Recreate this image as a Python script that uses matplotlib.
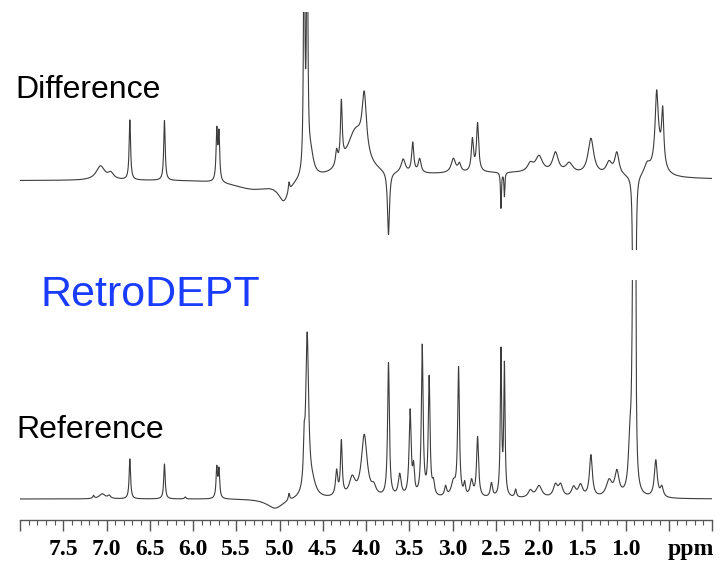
import numpy as np
import matplotlib
matplotlib.use('Agg')
import matplotlib.pyplot as plt

# peak lists: position (ppm), height (px above baseline), half width (ppm)
ref_ppm = [7.15, 7.05, 6.97, 6.73, 6.33, 6.09, 5.725, 5.70, 5.05, 4.89, 4.715, 4.68, 4.62,
           4.34, 4.285, 4.16, 4.02, 3.91, 3.74, 3.61, 3.49, 3.45, 3.35, 3.27, 3.22, 3.08,
           2.99, 2.93, 2.86, 2.78, 2.71, 2.55, 2.44, 2.40, 2.27, 2.10, 2.00, 1.81, 1.75,
           1.60, 1.52, 1.40, 1.19, 1.10, 0.95, 0.91, 0.885, 0.65, 0.58]
ref_height = [3, 5, 3, 40, 35, 2, 30, 28, -10, 7, 35, 160, 12,
              25, 54, 18, 62, 8, 134, 22, 85, 25, 150, 118, 12, 10,
              14, 128, 12, 16, 60, 14, 145, 130, 8, 7, 12, 12, 12,
              10, 12, 42, 16, 24, 40, 300, 300, 37, 10]
ref_width = [0.01, 0.04, 0.02, 0.010, 0.010, 0.01, 0.010, 0.010, 0.12, 0.01, 0.010, 0.020, 0.05,
             0.015, 0.012, 0.04, 0.04, 0.03, 0.012, 0.02, 0.014, 0.012, 0.012, 0.012, 0.015, 0.015,
             0.03, 0.012, 0.012, 0.02, 0.014, 0.015, 0.009, 0.009, 0.012, 0.03, 0.04, 0.03, 0.03,
             0.03, 0.03, 0.02, 0.04, 0.03, 0.02, 0.014, 0.006, 0.02, 0.02]

diff_ppm = [7.07, 6.95, 6.73, 6.33, 5.725, 5.70, 5.3, 4.95, 4.89, 4.715, 4.68, 4.64,
            4.34, 4.285, 4.12, 4.02, 3.74, 3.57, 3.46, 3.38, 2.99, 2.92,
            2.77, 2.71, 2.44, 2.40, 2.5, 2.10, 2.00, 1.81, 1.65, 1.40, 1.19, 1.10,
            0.91, 0.885, 0.75, 0.62, 0.64, 0.57]
diff_height = [14, 6, 60, 60, 50, 47, -10, -20, 10, 300, 300, 22,
               15, 60, 45, 58, -64, 14, 30, 14, 14, 8,
               32, 48, -36, -24, 8, 8, 16, 20, 10, 36, 12, 22,
               -300, -300, 10, 25, 62, 52]
diff_width = [0.06, 0.04, 0.010, 0.010, 0.010, 0.010, 0.3, 0.08, 0.01, 0.008, 0.008, 0.04,
              0.015, 0.012, 0.13, 0.03, 0.014, 0.03, 0.015, 0.02, 0.03, 0.02,
              0.015, 0.015, 0.006, 0.006, 1.5, 0.04, 0.05, 0.04, 0.05, 0.04, 0.04, 0.03,
              0.006, 0.006, 0.04, 0.06, 0.02, 0.015]

major_ticks = [8.0, 7.5, 7.0, 6.5, 6.0, 5.5, 5.0, 4.5, 4.0, 3.5, 3.0, 2.5, 2.0, 1.5, 1.0, 0.5, 0.0]
tick_labels = ['', '7.5', '7.0', '6.5', '6.0', '5.5', '5.0', '4.5', '4.0', '3.5', '3.0',
               '2.5', '2.0', '1.5', '1.0', '', '']


def spectrum(x, pos, hgt, wid):
    y = np.zeros_like(x)
    for p, h, w in zip(pos, hgt, wid):
        y += h / (1 + ((x - p) / w) ** 2)
    return y


ppm = np.linspace(8.0, 0.0, 6000)

W, H = 721, 563
fig = plt.figure(figsize=(W / 100, H / 100), dpi=100)
line_col = '#3c3c3c'

# top trace: px 12..250, baseline at 181
ax1 = fig.add_axes([20 / W, 1 - 250 / H, 692 / W, 238 / H])
ax1.plot(ppm, spectrum(ppm, diff_ppm, diff_height, diff_width), color=line_col, lw=0.8)
ax1.set_xlim(8.0, 0.0)
ax1.set_ylim(-(250 - 181), 181 - 12)
ax1.axis('off')

# bottom trace with the ppm axis: px 280..520, baseline at 499
ax2 = fig.add_axes([20 / W, 1 - 520 / H, 692 / W, 240 / H])
ax2.plot(ppm, spectrum(ppm, ref_ppm, ref_height, ref_width), color=line_col, lw=0.8)
ax2.set_xlim(8.0, 0.0)
ax2.set_ylim(-(520 - 499), 499 - 280)
for s in ['top', 'left', 'right']:
    ax2.spines[s].set_visible(False)
ax2.spines['bottom'].set_color('#555555')
ax2.spines['bottom'].set_linewidth(1.0)
ax2.set_yticks([])
ax2.set_xticks(major_ticks)
ax2.set_xticklabels(tick_labels, family='Liberation Serif', fontweight='bold', fontsize=17)
ax2.set_xticks(np.arange(0.0, 8.01, 0.1), minor=True)
ax2.tick_params(axis='x', which='major', length=8, width=1.0, color='#555555', pad=6)
ax2.tick_params(axis='x', which='minor', length=3.5, width=0.8, color='#555555')

fig.text(691 / W, 1 - 555 / H, 'ppm', ha='center', va='baseline',
         family='Liberation Serif', fontweight='bold', fontsize=17)
fig.text(15 / W, 1 - 98 / H, 'Difference', family='Liberation Sans', fontsize=23,
         color='black', va='baseline')
fig.text(40 / W, 1 - 306 / H, 'RetroDEPT', family='Liberation Sans', fontsize=31,
         color='#1a3cff', va='baseline')
fig.text(16 / W, 1 - 438 / H, 'Reference', family='Liberation Sans', fontsize=23,
         color='black', va='baseline')

fig.savefig('out.png', dpi=100, facecolor='white')
